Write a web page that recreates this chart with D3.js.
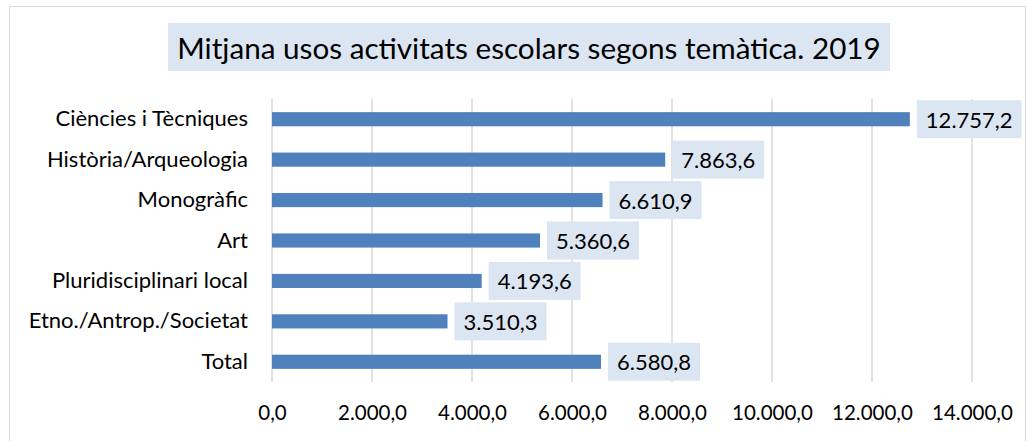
<!DOCTYPE html>
<html>
<head>
<meta charset="utf-8">
<script src="https://cdn.jsdelivr.net/npm/d3@7"></script>
<style>
  body { margin: 0; background: #fff; }
  svg { display: block; font-family: Lato, "Open Sans", sans-serif; }
</style>
</head>
<body>
<div id="chart"></div>
<script>
// Chart values
var categories = ["Ciències i Tècniques", "Història/Arqueologia", "Monogràfic", "Art",
    "Pluridisciplinari local", "Etno./Antrop./Societat", "Total"];
var values = [12757.2, 7863.6, 6610.9, 5360.6, 4193.6, 3510.3, 6580.8];
var ticks = [0, 2000, 4000, 6000, 8000, 10000, 12000, 14000];
var title = "Mitjana usos activitats escolars segons temàtica. 2019";

var svgWidth = 1028;
var svgHeight = 441;

var margin = { top: 99, left: 272, right: 56, bottom: 59 };
var width = svgWidth - margin.left - margin.right;   // 700
var height = svgHeight - margin.top - margin.bottom; // 283

// catalan number format: 12.757,2
var fmt = d3.formatLocale({ decimal: ",", thousands: ".", grouping: [3], currency: ["", "€"] }).format(",.1f");

var svg = d3.select("#chart").append("svg")
    .attr("width", svgWidth)
    .attr("height", svgHeight);

// outer chart border
svg.append("rect")
    .attr("x", 9.5).attr("y", 6.5)
    .attr("width", 1016).attr("height", 450)
    .attr("fill", "#fff")
    .attr("stroke", "#d9d9d9");

// title
var titleG = svg.append("g");
titleG.append("rect")
    .attr("x", 168).attr("y", 23)
    .attr("width", 722).attr("height", 48)
    .attr("fill", "#dce6f2");
var titleText = titleG.append("text")
    .attr("x", 529).attr("y", 47)
    .attr("text-anchor", "middle")
    .attr("dominant-baseline", "central")
    .style("font-size", "27px")
    .attr("fill", "#000")
    .text(title);

// fit text to a target width by adjusting font size
function fitSize(sel, target) {
    var fs = parseFloat(sel.style("font-size"));
    var w = sel.node().getComputedTextLength();
    sel.style("font-size", (fs * target / w) + "px");
}
fitSize(titleText, 704);

var chartGroup = svg.append("g")
    .attr("transform", `translate(${margin.left}, ${margin.top})`);

var x = d3.scaleLinear()
    .domain([0, 14000])
    .range([0, width]);

var y = d3.scaleBand()
    .domain(categories)
    .range([0, height])
    .paddingInner(0.65)
    .paddingOuter(0.325);

// gridlines
chartGroup.append("g")
    .selectAll("line")
    .data(ticks)
    .enter()
    .append("line")
    .attr("x1", d => x(d)).attr("x2", d => x(d))
    .attr("y1", 0).attr("y2", height)
    .attr("stroke", "#d9d9d9")
    .attr("stroke-width", 1.5);

// x axis labels
var xAxis = chartGroup.append("g")
    .attr("transform", `translate(0, ${height})`)
    .call(d3.axisBottom(x).tickValues(ticks).tickFormat(fmt).tickSize(0).tickPadding(23));
xAxis.select(".domain").remove();
xAxis.selectAll("text")
    .style("font-family", "Lato, sans-serif")
    .style("font-size", "20.5px")
    .attr("fill", "#000");

// y axis labels
var yAxis = chartGroup.append("g")
    .call(d3.axisLeft(y).tickSize(0).tickPadding(24));
yAxis.select(".domain").remove();
yAxis.selectAll("text")
    .style("font-family", "Lato, sans-serif")
    .style("font-size", "22px")
    .attr("fill", "#000");

// bars
chartGroup.append("g")
    .selectAll("rect")
    .data(values)
    .enter()
    .append("rect")
    .attr("x", x(0))
    .attr("y", (d, i) => y(categories[i]))
    .attr("width", d => x(d) - x(0))
    .attr("height", y.bandwidth())
    .attr("fill", "#4f81bd");

// value labels with boxes
var labels = chartGroup.append("g")
    .selectAll("g")
    .data(values)
    .enter()
    .append("g")
    .attr("transform", (d, i) => `translate(${x(d) + 7}, ${y(categories[i]) + y.bandwidth() / 2})`);

labels.append("rect")
    .attr("class", "bg")
    .attr("y", -19)
    .attr("height", 38)
    .attr("fill", "#dce6f2");

labels.append("text")
    .attr("x", 9)
    .attr("dominant-baseline", "central")
    .style("font-size", "22px")
    .attr("fill", "#000")
    .text(d => fmt(d));

labels.each(function () {
    var g = d3.select(this);
    var w = g.select("text").node().getComputedTextLength();
    g.select("rect").attr("width", w + 18);
});
</script>
</body>
</html>
